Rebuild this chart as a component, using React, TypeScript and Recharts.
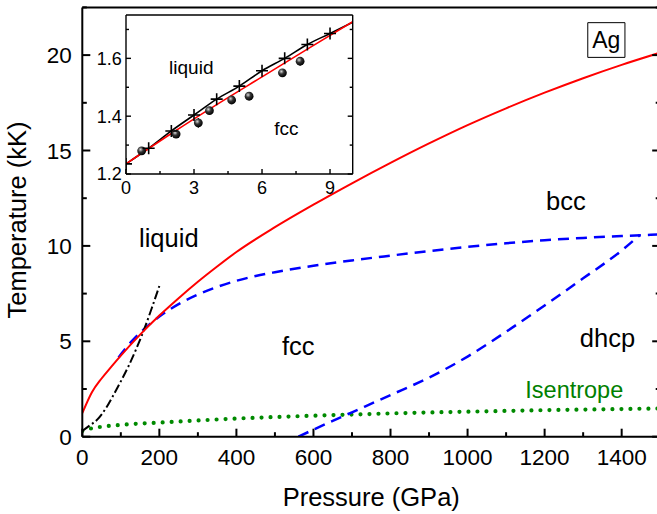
import React from 'react';
import {
  ComposedChart,
  Line,
  XAxis,
  YAxis,
  Scatter,
  ErrorBar,
  ReferenceDot,
  ReferenceArea,
} from 'recharts';

const FONT = '"Liberation Sans", Arial, Helvetica, sans-serif';

// ---------- main chart data (Pressure GPa, Temperature kK) ----------
const meltP = [0, 25, 50, 75, 100, 150, 200, 250, 300, 350, 400, 500, 600, 700, 800, 900, 1000, 1100, 1200, 1300, 1400, 1500];
const meltT = [1.23, 2.33, 3.05, 3.66, 4.25, 5.35, 6.35, 7.26, 8.12, 8.92, 9.68, 10.98, 12.16, 13.28, 14.35, 15.37, 16.33, 17.21, 18.03, 18.79, 19.49, 20.13];

const bccP = [94, 110, 125, 150, 175, 200, 250, 300, 350, 400, 450, 500, 600, 700, 800, 900, 1000, 1100, 1200, 1300, 1400, 1450, 1500];
const bccT = [4.15, 4.57, 4.93, 5.45, 5.9, 6.3, 6.95, 7.45, 7.85, 8.17, 8.42, 8.62, 8.96, 9.24, 9.49, 9.73, 9.95, 10.14, 10.3, 10.42, 10.52, 10.56, 10.6];

const dhcpP = [561, 600, 650, 700, 800, 900, 1000, 1100, 1200, 1300, 1400, 1447];
const dhcpT = [0, 0.37, 0.83, 1.28, 2.18, 3.1, 4.2, 5.5, 6.88, 8.3, 9.76, 10.57];

const isenP = [0, 25, 50, 100, 200, 300, 400, 500, 600, 700, 800, 900, 1000, 1100, 1200, 1300, 1400, 1500];
const isenT = [0.3, 0.44, 0.52, 0.62, 0.74, 0.85, 0.95, 1.03, 1.1, 1.16, 1.22, 1.27, 1.31, 1.35, 1.39, 1.42, 1.45, 1.48];

const lindP = [0, 20, 40, 60, 80, 100, 120, 140, 160, 180, 200];
const lindT = [0.3, 0.6, 0.92, 1.45, 2.15, 2.9, 3.7, 4.6, 5.6, 6.72, 7.9];

const mainXTicks = [0, 100, 200, 300, 400, 500, 600, 700, 800, 900, 1000, 1100, 1200, 1300, 1400, 1500];
const mainYTicks = [0, 2.5, 5, 7.5, 10, 12.5, 15, 17.5, 20, 22.5];

// ---------- inset data (Pressure GPa, Temperature kK) ----------
const inRedX = [0, 2, 4, 6, 8, 10];
const inRedY = [1.235, 1.34, 1.44, 1.536, 1.632, 1.727];

const inBlkX = [0, 1, 2, 3, 4, 5, 6, 7, 8, 9, 10];
const inBlkY = [1.235, 1.289, 1.349, 1.404, 1.459, 1.504, 1.557, 1.6, 1.648, 1.686, 1.725];

const crossX = [0, 1, 2, 3, 4, 5, 6, 7, 8, 9];
const crossY = [1.235, 1.289, 1.349, 1.404, 1.459, 1.504, 1.557, 1.6, 1.648, 1.686];

const expX = [0.69, 2.21, 3.19, 3.68, 4.66, 5.43, 6.9, 7.68];
const expY = [1.28, 1.338, 1.377, 1.419, 1.456, 1.469, 1.55, 1.59];
const expErr = [0.01, 0.01, 0.017, 0.01, 0.01, 0.008, 0.012, 0.015];

const inXTicks = [0, 1.5, 3, 4.5, 6, 7.5, 9];
const inYTicks = [1.2, 1.3, 1.4, 1.5, 1.6, 1.7];

const toPT = (ps: number[], ts: number[]) => ps.map((p, i) => ({ p, t: ts[i] }));
const toXY = (xs: number[], ys: number[]) => xs.map((x, i) => ({ x, y: ys[i] }));

const meltData = toPT(meltP, meltT);
const bccData = toPT(bccP, bccT);
const dhcpData = toPT(dhcpP, dhcpT);
const isenData = toPT(isenP, isenT);
const lindData = toPT(lindP, lindT);

const inRed = toXY(inRedX, inRedY);
const inBlk = toXY(inBlkX, inBlkY);
const crosses = toXY(crossX, crossY);
const exps = expX.map((x, i) => ({ x, y: expY[i], e: expErr[i] }));

type Side = 'bottom' | 'top' | 'left' | 'right';
interface TickOpts {
  side: Side;
  isMajor: (v: number) => boolean;
  major: number;
  minor: number;
  sw: number;
  label?: { fontSize: number; offset: number; base: number; fmt: (v: number) => string };
}

const makeTick = (o: TickOpts) => (props: any) => {
  const { x, y, payload } = props;
  const v = payload.value as number;
  const M = o.isMajor(v);
  const len = M ? o.major : o.minor;
  let x2 = x;
  let y2 = y;
  if (o.side === 'bottom') y2 = y - len;
  if (o.side === 'top') y2 = y + len;
  if (o.side === 'left') x2 = x + len;
  if (o.side === 'right') x2 = x - len;
  let txt: React.ReactNode = null;
  if (M && o.label) {
    if (o.side === 'bottom') {
      txt = (
        <text x={x} y={y + o.label.offset} textAnchor="middle" fontSize={o.label.fontSize} fill="#000">
          {o.label.fmt(v)}
        </text>
      );
    } else if (o.side === 'left') {
      txt = (
        <text x={x - o.label.offset} y={y + o.label.base} textAnchor="end" fontSize={o.label.fontSize} fill="#000">
          {o.label.fmt(v)}
        </text>
      );
    }
  }
  return (
    <g>
      <line x1={x} y1={y} x2={x2} y2={y2} stroke="#000" strokeWidth={o.sw} />
      {txt}
    </g>
  );
};

const near = (a: number, step: number) => Math.abs(a / step - Math.round(a / step)) < 1e-6;

const mainXMajor = (v: number) => near(v, 200);
const mainYMajor = (v: number) => near(v, 5);
const inXMajor = (v: number) => near(v, 3);
const inYMajor = (v: number) => near(v - 1.2, 0.2);

const mainAxisLine = { stroke: '#000', strokeWidth: 2 };
const inAxisLine = { stroke: '#000', strokeWidth: 1.4 };

function MainChart() {
  return (
    <ComposedChart width={662} height={514} margin={{ top: 0, right: 0, bottom: 0, left: 0 }}>
      <XAxis
        xAxisId={0}
        dataKey="p"
        type="number"
        domain={[0, 1500]}
        allowDataOverflow
        ticks={mainXTicks}
        interval={0}
        height={77.3}
        tickSize={0}
        tickMargin={0}
        tickLine={false}
        axisLine={mainAxisLine}
        tick={makeTick({
          side: 'bottom',
          isMajor: mainXMajor,
          major: 8,
          minor: 4.5,
          sw: 2,
          label: { fontSize: 22.5, offset: 28.3, base: 0, fmt: (v) => String(v) },
        })}
        label={{ value: 'Pressure (GPa)', position: 'insideBottom', offset: 8, fontSize: 25.5, fill: '#000' }}
      />
      <XAxis
        xAxisId="top"
        orientation="top"
        type="number"
        domain={[0, 1500]}
        allowDataOverflow
        ticks={mainXTicks}
        interval={0}
        height={7.4}
        tickSize={0}
        tickMargin={0}
        tickLine={false}
        axisLine={mainAxisLine}
        tick={makeTick({ side: 'top', isMajor: mainXMajor, major: 8, minor: 4.5, sw: 2 })}
      />
      <YAxis
        yAxisId={0}
        type="number"
        domain={[0, 22.5]}
        allowDataOverflow
        ticks={mainYTicks}
        interval={0}
        width={82.3}
        tickSize={0}
        tickMargin={0}
        tickLine={false}
        axisLine={mainAxisLine}
        tick={makeTick({
          side: 'left',
          isMajor: mainYMajor,
          major: 8,
          minor: 4.5,
          sw: 2,
          label: { fontSize: 22.5, offset: 10.6, base: 8, fmt: (v) => String(v) },
        })}
        label={{
          content: () => (
            <text x={26.3} y={220} transform="rotate(-90 26.3 220)" textAnchor="middle" fontSize={25.5} fill="#000">
              Temperature (kK)
            </text>
          ),
        }}
      />
      <YAxis
        yAxisId="right"
        orientation="right"
        type="number"
        domain={[0, 22.5]}
        allowDataOverflow
        ticks={mainYTicks}
        interval={0}
        width={1.8}
        tickSize={0}
        tickMargin={0}
        tickLine={false}
        axisLine={mainAxisLine}
        tick={makeTick({ side: 'right', isMajor: mainYMajor, major: 8, minor: 4.5, sw: 2 })}
      />

      <Line
        data={isenData}
        dataKey="t"
        type="monotone"
        stroke="#008a00"
        strokeWidth={4.2}
        strokeDasharray="0 9"
        strokeLinecap="round"
        dot={false}
        activeDot={false}
        isAnimationActive={false}
      />
      <Line
        data={dhcpData}
        dataKey="t"
        type="monotone"
        stroke="#0000ff"
        strokeWidth={2.5}
        strokeDasharray="11 7"
        dot={false}
        activeDot={false}
        isAnimationActive={false}
      />
      <Line
        data={bccData}
        dataKey="t"
        type="monotone"
        stroke="#0000ff"
        strokeWidth={2.5}
        strokeDasharray="11 7"
        dot={false}
        activeDot={false}
        isAnimationActive={false}
      />
      <Line
        data={lindData}
        dataKey="t"
        type="monotone"
        stroke="#000"
        strokeWidth={2}
        strokeDasharray="9 3 2 3"
        dot={false}
        activeDot={false}
        isAnimationActive={false}
      />
      <Line
        data={meltData}
        dataKey="t"
        type="monotone"
        stroke="#ff0000"
        strokeWidth={2}
        dot={false}
        activeDot={false}
        isAnimationActive={false}
      />

      <ReferenceDot x={224.5} y={10.4} r={0} fill="none" stroke="none"
        label={{ value: 'liquid', position: 'center', fontSize: 25.5, fill: '#000' }} />
      <ReferenceDot x={560.6} y={4.74} r={0} fill="none" stroke="none"
        label={{ value: 'fcc', position: 'center', fontSize: 25.5, fill: '#000' }} />
      <ReferenceDot x={1255} y={12.33} r={0} fill="none" stroke="none"
        label={{ value: 'bcc', position: 'center', fontSize: 25.5, fill: '#000' }} />
      <ReferenceDot x={1363} y={5.2} r={0} fill="none" stroke="none"
        label={{ value: 'dhcp', position: 'center', fontSize: 25.5, fill: '#000' }} />
      <ReferenceDot x={1277} y={2.46} r={0} fill="none" stroke="none"
        label={{ value: 'Isentrope', position: 'center', fontSize: 23.5, fill: '#008000' }} />
      <ReferenceArea x1={1312} x2={1408.5} y1={19.88} y2={21.7} fill="#fff" fillOpacity={1} stroke="#000" strokeWidth={1}
        label={{ value: 'Ag', position: 'center', fontSize: 23, fill: '#000' }} />
    </ComposedChart>
  );
}

const CrossShape = (p: any) => (
  <path d={`M${p.cx - 6},${p.cy}h12M${p.cx},${p.cy - 6}v12`} stroke="#000" strokeWidth={1.6} fill="none" />
);

const SphereShape = (p: any) => (
  <g>
    <defs>
      <radialGradient id="sphereGrad" cx="38%" cy="35%" r="65%">
        <stop offset="0" stopColor="#d8d8d8" />
        <stop offset="0.45" stopColor="#333" />
        <stop offset="1" stopColor="#000" />
      </radialGradient>
    </defs>
    <circle cx={p.cx} cy={p.cy} r={4.4} fill="url(#sphereGrad)" />
  </g>
);

function InsetChart() {
  return (
    <ComposedChart width={270} height={190} margin={{ top: 0, right: 0, bottom: 0, left: 0 }}>
      <XAxis
        xAxisId={0}
        dataKey="x"
        type="number"
        domain={[0, 10]}
        allowDataOverflow
        ticks={inXTicks}
        interval={0}
        height={26}
        tickSize={0}
        tickMargin={0}
        tickLine={false}
        axisLine={inAxisLine}
        tick={makeTick({
          side: 'bottom',
          isMajor: inXMajor,
          major: 5,
          minor: 3,
          sw: 1.4,
          label: { fontSize: 18, offset: 19.5, base: 0, fmt: (v) => String(v) },
        })}
      />
      <XAxis
        xAxisId="top"
        orientation="top"
        type="number"
        domain={[0, 10]}
        allowDataOverflow
        ticks={inXTicks}
        interval={0}
        height={5}
        tickSize={0}
        tickMargin={0}
        tickLine={false}
        axisLine={inAxisLine}
        tick={makeTick({ side: 'top', isMajor: inXMajor, major: 5, minor: 3, sw: 1.4 })}
      />
      <YAxis
        yAxisId={0}
        type="number"
        domain={[1.2, 1.75]}
        allowDataOverflow
        ticks={inYTicks}
        interval={0}
        width={36}
        tickSize={0}
        tickMargin={0}
        tickLine={false}
        axisLine={inAxisLine}
        tick={makeTick({
          side: 'left',
          isMajor: inYMajor,
          major: 5,
          minor: 3,
          sw: 1.4,
          label: { fontSize: 18, offset: 4.3, base: 6.4, fmt: (v) => v.toFixed(1) },
        })}
      />
      <YAxis
        yAxisId="right"
        orientation="right"
        type="number"
        domain={[1.2, 1.75]}
        allowDataOverflow
        ticks={inYTicks}
        interval={0}
        width={7.3}
        tickSize={0}
        tickMargin={0}
        tickLine={false}
        axisLine={inAxisLine}
        tick={makeTick({ side: 'right', isMajor: inYMajor, major: 5, minor: 3, sw: 1.4 })}
      />

      <Line data={inBlk} dataKey="y" type="monotone" stroke="#000" strokeWidth={1.6}
        dot={false} activeDot={false} isAnimationActive={false} />
      <Line data={inRed} dataKey="y" type="monotone" stroke="#ff0000" strokeWidth={1.6}
        dot={false} activeDot={false} isAnimationActive={false} />
      <Scatter data={exps} dataKey="y" shape={SphereShape} isAnimationActive={false}>
        <ErrorBar dataKey="e" direction="y" width={0} stroke="#000" strokeWidth={1.2} isAnimationActive={false} />
      </Scatter>
      <Scatter data={crosses} dataKey="y" shape={CrossShape} isAnimationActive={false} />

      <ReferenceDot x={2.88} y={1.569} r={0} fill="none" stroke="none"
        label={{ value: 'liquid', position: 'center', fontSize: 19, fill: '#000' }} />
      <ReferenceDot x={7.07} y={1.358} r={0} fill="none" stroke="none"
        label={{ value: 'fcc', position: 'center', fontSize: 19, fill: '#000' }} />
    </ComposedChart>
  );
}

export default function App() {
  return (
    <div
      style={{
        position: 'absolute',
        left: 0,
        top: 0,
        width: 657,
        height: 514,
        overflow: 'hidden',
        background: '#fff',
        fontFamily: FONT,
      }}
    >
      <MainChart />
      <div style={{ position: 'absolute', left: 90, top: 10 }}>
        <InsetChart />
      </div>
    </div>
  );
}
